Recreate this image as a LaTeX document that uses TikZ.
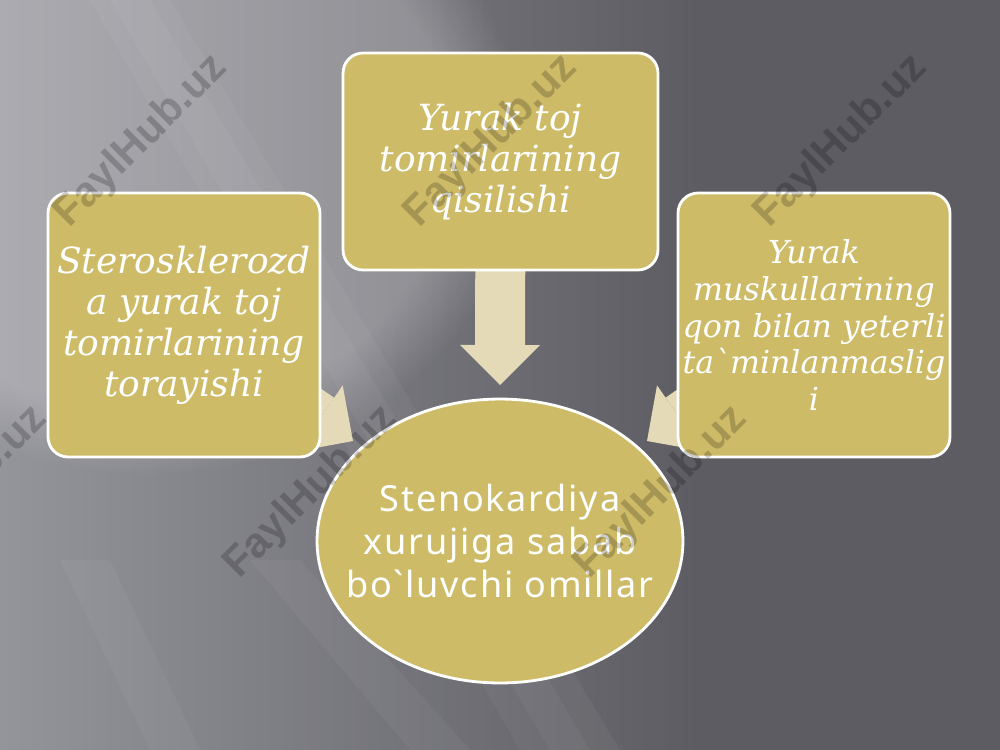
\documentclass[tikz,border=0pt]{standalone}
\usepackage{fontspec}
\usetikzlibrary{arrows.meta,shapes.geometric,fadings}
\newfontfamily\boxfont[Ligatures=TeXOff]{DejaVu Serif}
\newfontfamily\ovalfont[Ligatures=TeXOff,LetterSpace=5]{Noto Sans}
\newfontfamily\markfont{Liberation Sans}
\definecolor{gold}{RGB}{206,187,103}
\definecolor{pale}{RGB}{228,218,184}
\definecolor{bgL}{RGB}{148,148,155}
\definecolor{bgR}{RGB}{92,92,98}
\pgfdeclarelayer{back}
\pgfdeclarelayer{mid}
\pgfsetlayers{back,mid,main}
\begin{document}
\begin{tikzpicture}[x=0.02cm,y=-0.02cm,
box/.style={draw=white,line width=1.6pt,fill=gold,rounded corners=0.4cm,inner sep=0pt,text=white,align=center},
bigfont/.style={font=\boxfont\itshape\fontsize{20.5}{23.3}\selectfont},
smallfont/.style={font=\boxfont\itshape\fontsize{18}{21}\selectfont},
bigarrow/.style={draw=pale,line width=1cm,-{Triangle[width=1.6cm,length=0.8cm,line width=0pt]}},
wmark/.style={rotate=45,font=\markfont\bfseries\fontsize{24}{24}\selectfont,text=black,text opacity=0.2}]
\useasboundingbox (0,0) rectangle (1000,750);
\begin{pgfonlayer}{back}
\fill[bgR] (0,0) rectangle (1000,750);
\shade[left color=bgL,right color=bgR] (0,0) rectangle (700,750);
\fill[white,opacity=0.22,path fading=circle with fuzzy edge 20 percent] (150,150) ellipse [x radius=7.5cm,y radius=6.5cm];
\fill[white,opacity=0.04] (90,0)--(170,0)--(620,750)--(520,750)--cycle;
\fill[white,opacity=0.04] (110,0)--(150,0)--(590,750)--(550,750)--cycle;
\fill[white,opacity=0.04] (60,560)--(110,560)--(200,750)--(150,750)--cycle;
\fill[white,opacity=0.04] (250,560)--(300,560)--(470,750)--(410,750)--cycle;
\end{pgfonlayer}

\node[box,bigfont,minimum width=5.44cm,minimum height=5.28cm] (stero) at (184,325) {Sterosklerozd\\a yurak toj\\tomirlarining\\torayishi};
\node[box,bigfont,minimum width=6.3cm,minimum height=4.34cm] (qisil) at (500.5,161.5) {Yurak toj\\tomirlarining\\qisilishi};
\node[box,smallfont,minimum width=5.44cm,minimum height=5.28cm] (muskul) at (814,325) {Yurak\\muskullarining\\qon bilan yeterli\\ta`minlanmaslig\\i};
\node[ellipse,draw=white,line width=1.6pt,fill=gold,minimum width=7.32cm,minimum height=5.68cm] (omil) at (500,541) {};
\node[text=white,align=center,font=\ovalfont\fontsize{20.5}{24.4}\selectfont] (omiltxt) at (omil.center) {Stenokardiya\\xurujiga sabab\\bo`luvchi omillar};

\path (353,441) coordinate (ltip) (500,385) coordinate (mtip) (647,441) coordinate (rtip);
\begin{pgfonlayer}{mid}
\draw[bigarrow] (stero.center) -- (ltip);
\draw[bigarrow] (qisil.center) -- (mtip);
\draw[bigarrow] (muskul.center) -- (rtip);
\end{pgfonlayer}

\foreach \x/\y [count=\i] in {141/141,491/141,841/141,-39/492,311/492,661/492}
  \node[wmark] (wm\i) at (\x,\y) {FaylHub.uz};
\end{tikzpicture}
\end{document}
